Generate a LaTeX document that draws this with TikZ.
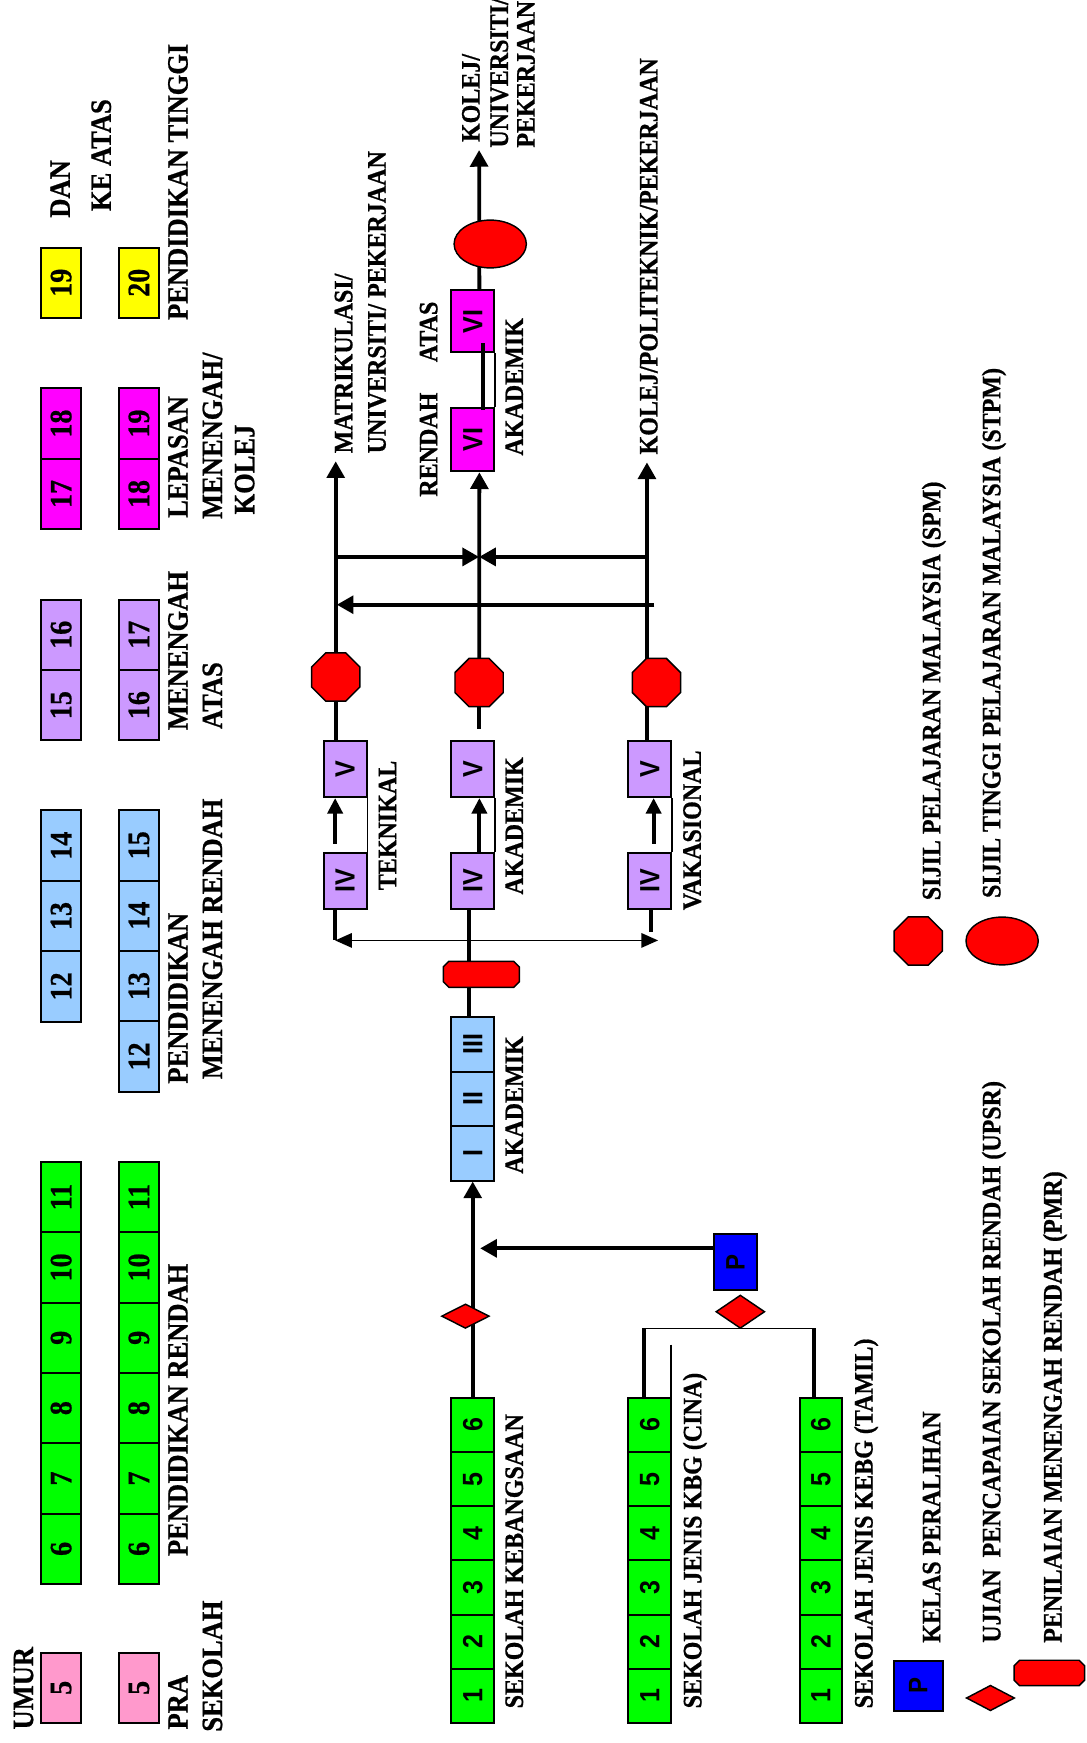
\documentclass[tikz,border=0pt]{standalone}
\usepackage{fontspec}
\newfontfamily\lab{Liberation Serif Bold}[FakeStretch=0.9,FakeBold=0.7]
\newfontfamily\sns{Liberation Sans Bold}[FakeStretch=0.9]
\usetikzlibrary{shapes.geometric,shapes.misc,arrows.meta,calc}
\pgfdeclarelayer{paper}\pgfdeclarelayer{bg}\pgfsetlayers{paper,bg,main}
\definecolor{cgreen}{HTML}{00FF00}
\definecolor{cpink}{HTML}{FF99CC}
\definecolor{cblue}{HTML}{99CCFF}
\definecolor{cpurple}{HTML}{CC99FF}
\definecolor{cmag}{HTML}{FF00FF}
\definecolor{cyel}{HTML}{FFFF00}
\definecolor{cred}{HTML}{FF0000}
\definecolor{cpblue}{HTML}{0000FF}
\newcommand\agecol[5]{\foreach \n [count=\i from 0] in {#5} {\node[agecell, fill=#4] (#1\n) at ({#2},{#3-(\i+0.5)*63.3}) {\rotatebox{90}{\n}};}}
\newcommand\flowcol[6]{\foreach \n [count=\i from 0] in {#6} {\node[fcell, fill=#5, minimum height=#4pt] (#1\n) at ({#2},{#3-(\i+0.5)*#4}) {\rotatebox{90}{\n}};}}
% chamfered red shape drawn over an (invisible) node
\newcommand\chamf[1]{\filldraw[fill=cred, line width=1.3pt]
  ($(#1.north west)+(5,0)$) -- ($(#1.north east)+(-5,0)$) -- ($(#1.north east)+(0,5)$) --
  ($(#1.south east)+(0,-5)$) -- ($(#1.south east)+(-5,0)$) -- ($(#1.south west)+(5,0)$) --
  ($(#1.south west)+(0,-5)$) -- ($(#1.north west)+(0,5)$) -- cycle;}
\begin{document}
\begin{tikzpicture}[x=1pt,y=-1pt,
  tl/.style={line width=3.4pt},
  thn/.style={line width=1.4pt},
  arr/.style={-{Triangle[length=15pt,width=16pt]}},
  arrs/.style={-{Triangle[length=14pt,width=13.5pt]}},
  darr/.style={{Triangle[length=15pt,width=13pt]}-{Triangle[length=15pt,width=13pt]}},
  lab/.style={font=\lab\fontsize{24}{26}\selectfont, rotate=90, anchor=west, inner sep=0pt, text height=15.9pt, text depth=0pt},
  hlab/.style={lab, font=\lab\fontsize{26.5}{28}\selectfont, text height=17.5pt},
  agecell/.style={draw, line width=1.8pt, minimum width=36pt, minimum height=63.3pt, inner sep=0pt, font=\lab\fontsize{28}{28}\selectfont},
  fcell/.style={draw, line width=1.8pt, minimum width=38.5pt, inner sep=0pt, font=\sns\fontsize{25}{25}\selectfont},
  oct/.style={regular polygon, regular polygon sides=8, minimum size=47pt, inner sep=0pt, draw, line width=1.3pt, fill=cred},
  ell/.style={ellipse, minimum width=65pt, minimum height=43pt, inner sep=0pt, draw, line width=1.3pt, fill=cred},
  dia/.style={diamond, inner sep=0pt, draw, line width=1.3pt, fill=cred},
  pmr/.style={rectangle, inner sep=0pt},
  pbox/.style={draw, line width=1.8pt, fill=cpblue, inner sep=0pt, font=\sns\fontsize{24}{24}\selectfont}
]
\begin{pgfonlayer}{paper}
\fill[white] (0,0) rectangle (977,1568);
\end{pgfonlayer}
\useasboundingbox (0,0) rectangle (977,1568);

% ---------- age table ----------
\agecol{a}{55}{1550}{cpink}{5}
\agecol{a}{55}{1425}{cgreen}{6,7,8,9,10,11}
\agecol{a}{55}{919}{cblue}{12,13,14}
\agecol{a}{55}{666}{cpurple}{15,16}
\agecol{a}{55}{476}{cmag}{17,18}
\agecol{a}{55}{286}{cyel}{19}
\agecol{b}{125}{1550}{cpink}{5}
\agecol{b}{125}{1425}{cgreen}{6,7,8,9,10,11}
\agecol{b}{125}{982}{cblue}{12,13,14,15}
\agecol{b}{125}{666}{cpurple}{16,17}
\agecol{b}{125}{476}{cmag}{18,19}
\agecol{b}{125}{286}{cyel}{20}

\node[hlab] (hUmur) at (21,1556) {UMUR};
\node[hlab] (hDan) at (54,196) {DAN};
\node[hlab] (hKe) at (91,190) {KE ATAS};
\node[hlab] (hPra) at (160,1556) {PRA};
\node[hlab] (hSek) at (191,1558) {SEKOLAH};
\node[hlab] (hPR) at (160,1400) {PENDIDIKAN RENDAH};
\node[hlab] (hPMa) at (160,975) {PENDIDIKAN};
\node[hlab] (hPMb) at (191,971) {MENENGAH RENDAH};
\node[hlab] (hMAa) at (160,657) {MENENGAH};
\node[hlab] (hMAb) at (191,656) {ATAS};
\node[hlab] (hLa) at (160,466) {LEPASAN};
\node[hlab] (hLb) at (191,467) {MENENGAH/};
\node[hlab] (hLc) at (220,463) {KOLEJ};
\node[hlab] (hPT) at (160,288) {PENDIDIKAN TINGGI};

% ---------- flow boxes ----------
\flowcol{sk}{425.25}{1550}{48.75}{cgreen}{1,2,3,4,5,6}
\flowcol{cn}{584.5}{1550}{48.75}{cgreen}{1,2,3,4,5,6}
\flowcol{tm}{738.5}{1550}{48.75}{cgreen}{1,2,3,4,5,6}
\flowcol{ak}{425.25}{1062}{49}{cblue}{I,II,III}

\node[fcell, fill=cpurple, minimum height=51pt] (tIV) at (310.5,792.5) {\rotatebox{90}{IV}};
\node[fcell, fill=cpurple, minimum height=50pt] (tV) at (310.5,692) {\rotatebox{90}{V}};
\node[fcell, fill=cpurple, minimum height=51pt] (aIV) at (425.25,792.5) {\rotatebox{90}{IV}};
\node[fcell, fill=cpurple, minimum height=50pt] (aV) at (425.25,692) {\rotatebox{90}{V}};
\node[fcell, fill=cpurple, minimum height=51pt] (vIV) at (584.5,792.5) {\rotatebox{90}{IV}};
\node[fcell, fill=cpurple, minimum height=50pt] (vV) at (584.5,692) {\rotatebox{90}{V}};
\node[fcell, fill=cmag, minimum height=57pt] (viA) at (425.25,395.5) {\rotatebox{90}{VI}};
\node[fcell, fill=cmag, minimum height=56pt] (viB) at (425.25,289) {\rotatebox{90}{VI}};

\node[pbox, minimum width=38.6pt, minimum height=50.5pt] (pP) at (661.7,1135.3) {\rotatebox{90}{P}};
\node[dia, minimum width=44pt, minimum height=30pt] (dP) at (666,1180) {};
\node[dia, minimum width=43pt, minimum height=22pt] (dSK) at (418.7,1184) {};
\node[pmr, minimum width=68pt, minimum height=23pt] (pmrA) at (433,876.5) {};
\chamf{pmrA}
\node[oct] (octT) at (302,609) {};
\node[oct] (octA) at (431,614) {};
\node[oct] (octV) at (590.5,614) {};
\node[ell] (ellK) at (441,219.5) {};

% coordinates
\coordinate (pin) at (432,1123);
\coordinate (bl) at (579,1195);
\coordinate (br) at (732.6,1195);
\coordinate (thinTop) at (603.7,1209.5);
\coordinate (dL) at (301.5,846);
\coordinate (dR) at (592,846);
\coordinate (vst) at (585.5,838);
\coordinate (aStub) at (431,656);
\coordinate (tipT) at (302,415);
\coordinate (tipV) at (582,416);
\coordinate (tipK) at (431,135);
\coordinate (hL1) at (302,501);
\coordinate (hM1) at (431,501);
\coordinate (hR1) at (582,501);
\coordinate (hR2) at (588.6,544);
\coordinate (hL2) at (303,544);

\begin{pgfonlayer}{bg}
\draw[tl,arr] (sk6.north) -- (akI.south);
\draw[tl,arr] (pP.west |- pin) -- (pin);
\draw[thn] (bl) -- (br);
\draw[tl] (bl) -- (bl |- cn6.north);
\draw[tl] (br) -- (br |- tm6.north);
\draw[thn] (thinTop) -- (thinTop |- cn6.north);
\draw[tl] ([xshift=-3.5pt]akIII.north) -- ([xshift=-3.5pt]aIV.south);
\draw[thn,darr] (dL) -- (dR);
\draw[tl] ([xshift=-9pt]tIV.south) -- (dL);
\draw[tl] ([xshift=1pt]vIV.south) -- (vst);
\draw[tl,arrs] ([xshift=-9pt,yshift=7pt]tIV.north) -- ([xshift=-9pt]tV.south);
\draw[tl,arrs] ([xshift=6pt]aIV.north) -- ([xshift=6pt]aV.south);
\draw[tl,arrs] ([xshift=3.5pt,yshift=7pt]vIV.north) -- ([xshift=3.5pt]vV.south);
\draw[thn] (tIV.north east) -- (tV.south east);
\draw[thn] (aIV.north east) -- (aV.south east);
\draw[thn] (vIV.north east) -- (vV.south east);
\draw[thn] (viA.north east) -- (viB.south east);
\draw[tl] ([xshift=-8.5pt]tV.north) -- (octT.center);
\draw[tl,arr] (octT.center) -- (tipT);
\draw[tl] (octA.center) -- (aStub);
\draw[tl,arr] (octA.center) -- ([xshift=6pt]viA.south);
\draw[tl,arr] ([xshift=-2.5pt]vV.north) -- (tipV);
\draw[tl,arr] (hL1) -- (hM1);
\draw[tl,arr] (hR1) -- (hM1);
\draw[tl,arr] (hR2) -- (hL2);
\draw[tl,arr] ([xshift=6pt]viB.north) -- (tipK);
\end{pgfonlayer}
\draw[tl] ([xshift=9pt,yshift=9pt]viB.south) -- ([xshift=9pt,yshift=-3pt]viA.north);

% ---------- flow labels ----------
\node[lab] (lM1) at (309,408) {MATRIKULASI/};
\node[lab] (lM2) at (339,408) {UNIVERSITI/ PEKERJAAN};
\node[lab] (lRen) at (385.5,447) {RENDAH};
\node[lab] (lAts) at (385.5,326) {ATAS};
\node[lab] (lAk3) at (462.5,410) {AKADEMIK};
\node[lab] (lK1) at (423.5,128) {KOLEJ/};
\node[lab] (lK2) at (449,133) {UNIVERSITI/};
\node[lab] (lK3) at (473,133) {PEKERJAAN};
\node[lab] (lKP) at (583.5,409) {KOLEJ/POLITEKNIK/PEKERJAAN};
\node[lab] (lTek) at (348.5,801) {TEKNIKAL};
\node[lab] (lAk2) at (462.5,805) {AKADEMIK};
\node[lab] (lVak) at (622.5,819) {VAKASIONAL};
\node[lab] (lAk1) at (462.5,1056) {AKADEMIK};
\node[lab] (lSK) at (462.5,1537) {SEKOLAH KEBANGSAAN};
\node[lab] (lCn) at (623,1537) {SEKOLAH JENIS KBG (CINA)};
\node[lab] (lTm) at (777,1537) {SEKOLAH JENIS KEBG (TAMIL)};

% ---------- legend ----------
\node[oct] (gOct) at (826,846.5) {};
\node[ell] (gEll) at (901.5,846.5) {};
\node[pbox, minimum width=44pt, minimum height=45pt] (gP) at (826,1516.5) {\rotatebox{90}{P}};
\node[dia, minimum width=43.5pt, minimum height=23pt] (gDia) at (891,1527.5) {};
\node[pmr, minimum width=63pt, minimum height=22.5pt] (gPmr) at (944,1505) {};
\chamf{gPmr}
\node[lab] (gL1) at (838,810) {SIJIL PELAJARAN MALAYSIA (SPM)};
\node[lab] (gL2) at (892,808) {SIJIL TINGGI PELAJARAN MALAYSIA (STPM)};
\node[lab] (gL3) at (838,1478) {KELAS PERALIHAN};
\node[lab] (gL4) at (892,1478) {UJIAN\ \ PENCAPAIAN SEKOLAH RENDAH (UPSR)};
\node[lab] (gL5) at (947,1478) {PENILAIAN MENENGAH RENDAH (PMR)};
\end{tikzpicture}
\end{document}
